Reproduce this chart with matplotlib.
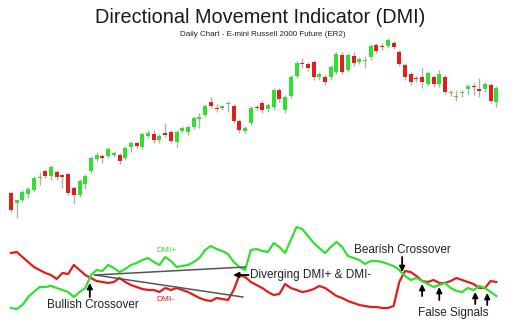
import numpy as np
import matplotlib
matplotlib.use("Agg")
import matplotlib.pyplot as plt

plt.rcParams['font.family'] = ['Liberation Sans', 'DejaVu Sans']

# Datos diarios (OHLC) del E-mini Russell 2000
opens = [607, 597, 600, 606, 610, 622, 629, 624, 628, 625,
         626, 612, 605, 616, 629, 641, 644, 644, 645, 645,
         642, 653, 657, 653, 664, 666, 660, 667, 668, 658,
         669, 668, 673, 681, 685, 698, 692, 692, 696, 694,
         679, 669, 677, 693, 697, 691, 693, 710, 690, 704,
         724, 737, 736, 738, 723, 723, 723, 728, 745, 730,
         744, 738, 739, 743, 755, 754, 754, 757, 748, 735,
         726, 722, 723, 716, 723, 716, 723, 707, 703, 707,
         711, 714, 711, 711, 715, 698]
highs = [609, 601, 610, 613, 624, 628, 631, 635, 630, 626,
         627, 614, 621, 626, 644, 648, 646, 653, 649, 647,
         654, 659, 658, 668, 670, 670, 666, 677, 670, 670,
         674, 675, 684, 687, 696, 703, 696, 695, 699, 696,
         681, 674, 694, 695, 700, 697, 712, 712, 705, 725,
         739, 742, 738, 740, 728, 726, 735, 748, 748, 747,
         748, 743, 744, 756, 757, 757, 762, 759, 750, 737,
         728, 724, 732, 729, 725, 730, 725, 710, 710, 710,
         716, 717, 722, 718, 717, 714]
lows = [588, 582, 598, 602, 608, 615, 622, 620, 620, 612,
        605, 596, 603, 611, 627, 639, 637, 642, 643, 636,
        640, 648, 652, 651, 662, 657, 657, 663, 657, 653,
        667, 665, 671, 672, 683, 692, 688, 690, 688, 677,
        667, 667, 675, 690, 687, 688, 690, 698, 687, 702,
        722, 732, 729, 720, 720, 715, 720, 726, 726, 728,
        734, 736, 732, 740, 747, 750, 752, 751, 734, 720,
        715, 718, 712, 714, 713, 713, 706, 704, 699, 703,
        705, 705, 703, 708, 697, 693]
closes = [590, 600, 608, 611, 622, 623, 624, 633, 623, 623,
          607, 605, 619, 624, 642, 645, 642, 651, 647, 639,
          652, 657, 654, 666, 667, 660, 664, 665, 659, 668,
          672, 673, 682, 683, 694, 694, 691, 694, 697, 679,
          670, 672, 692, 692, 690, 695, 710, 701, 703, 723,
          737, 736, 732, 723, 726, 718, 733, 746, 728, 745,
          737, 741, 740, 754, 749, 753, 760, 753, 736, 723,
          718, 721, 718, 727, 716, 726, 708, 708, 704, 708,
          714, 713, 709, 716, 699, 712]

dmi_plus = [4.8, 4.4, 6.0, 9.2, 11.2, 13.2, 13.2, 13.6, 12.8, 12.0,
            11.2, 9.2, 11.2, 12.8, 18.0, 20.0, 19.6, 22.0, 20.8, 19.2,
            20.4, 22.0, 22.8, 24.0, 24.8, 23.2, 22.0, 25.2, 23.6, 21.2,
            21.6, 22.0, 23.2, 24.8, 28.0, 29.6, 28.4, 27.6, 26.4, 23.2,
            21.2, 20.0, 28.0, 28.4, 27.6, 27.2, 30.8, 29.2, 26.8, 32.0,
            37.2, 36.4, 33.6, 30.8, 28.8, 26.8, 29.2, 31.2, 29.2, 25.6,
            24.8, 24.0, 22.4, 23.6, 23.6, 23.2, 22.4, 21.6, 20.0, 17.6,
            16.0, 16.8, 15.6, 14.4, 13.2, 14.0, 14.8, 12.8, 11.6, 11.2,
            12.8, 12.0, 13.6, 12.8, 11.2, 9.6]
dmi_minus = [26.8, 27.2, 25.2, 23.2, 21.2, 20.0, 18.8, 18.0, 16.4, 18.8,
             18.4, 22.0, 20.0, 18.0, 16.8, 15.6, 15.2, 14.8, 15.2, 16.8,
             15.2, 14.0, 13.2, 12.4, 12.0, 12.0, 11.2, 12.8, 12.0, 12.8,
             12.0, 11.2, 10.0, 8.8, 8.0, 7.6, 8.8, 8.4, 8.0, 12.0,
             18.0, 17.2, 15.2, 14.0, 12.8, 11.2, 10.0, 10.4, 14.4, 12.8,
             12.0, 11.2, 11.6, 12.4, 13.6, 12.8, 11.2, 9.6, 8.8, 7.6,
             6.8, 6.0, 5.6, 5.2, 5.2, 4.8, 4.8, 5.6, 15.2, 19.6,
             19.2, 17.6, 15.6, 15.2, 16.0, 14.8, 14.8, 15.6, 16.8, 16.0,
             15.2, 14.4, 12.8, 12.8, 15.6, 15.2]

GREEN = '#2fe02f'
RED = '#e31c1c'

days = np.arange(len(closes))
o = np.array(opens); c = np.array(closes)
h = np.array(highs); l = np.array(lows)
up = c >= o

fig = plt.figure(figsize=(5.2, 3.23), dpi=100)
xlim = (-1.93, 89.14)

# Panel de precios
ax = fig.add_axes([0, 0.3034, 1, 0.6037])
ax.vlines(days, l, h, color='#b0b0b0', lw=1, zorder=1)
ax.bar(days[up], c[up] - o[up], bottom=o[up], width=0.7, color=GREEN, zorder=2)
ax.bar(days[~up], o[~up] - c[~up], bottom=c[~up], width=0.7, color=RED, zorder=2)
ax.set_xlim(xlim)
ax.set_ylim(575, 770)
ax.axis('off')

# Panel DMI
ax2 = fig.add_axes([0, 0, 1, 0.3034])
ax2.plot(days, dmi_minus, color=RED, lw=1.6)
ax2.plot(days, dmi_plus, color=GREEN, lw=1.6)
ax2.set_xlim(xlim)
ax2.set_ylim(-1.2, 38)
ax2.axis('off')

# Lineas de divergencia
ax2.plot([14.7, 41.0], [18.0, 21.2], color='#555555', lw=1.1)
ax2.plot([14.7, 40.6], [18.0, 9.2], color='#555555', lw=1.1)

ax2.text(27.3, 28.0, 'DMI+', color=GREEN, fontsize=6, ha='center', va='center')
ax2.text(27.0, 8.4, 'DMI-', color=RED, fontsize=6, ha='center', va='center')

arrow = dict(arrowstyle='-|>', color='black', lw=1.3, mutation_scale=8,
             shrinkA=0, shrinkB=0)
ax2.annotate('', xy=(13.8, 14.8), xytext=(13.8, 9.2), arrowprops=arrow)
ax2.text(14.3, 6.0, 'Bullish Crossover', fontsize=8.5, color='#222222',
         ha='center', va='center')

ax2.annotate('', xy=(38.9, 18.0), xytext=(41.6, 18.0), arrowprops=arrow)
ax2.text(41.8, 18.0, 'Diverging DMI+ & DMI-', fontsize=8.5, color='#222222',
         ha='left', va='center')

ax2.annotate('', xy=(68.5, 19.2), xytext=(68.5, 25.2), arrowprops=arrow)
ax2.text(68.5, 28.0, 'Bearish Crossover', fontsize=8.5, color='#222222',
         ha='center', va='center')

for xa, y0, y1 in [(72.0, 9.6, 14.4), (75.0, 8.0, 13.2),
                   (81.3, 6.4, 11.2), (83.4, 6.0, 10.8)]:
    ax2.annotate('', xy=(xa, y1), xytext=(xa, y0), arrowprops=arrow)
ax2.text(77.5, 2.8, 'False Signals', fontsize=8.5, color='#222222',
         ha='center', va='center')

fig.text(0.5, 0.947, 'Directional Movement Indicator (DMI)', fontsize=14.3,
         color='#1a1a1a', ha='center', va='center')
fig.text(0.506, 0.892, 'Daily Chart - E-mini Russell 2000 Future (ER2)',
         fontsize=5.8, color='#222222', ha='center', va='center')

fig.savefig('out.png', dpi=100)
